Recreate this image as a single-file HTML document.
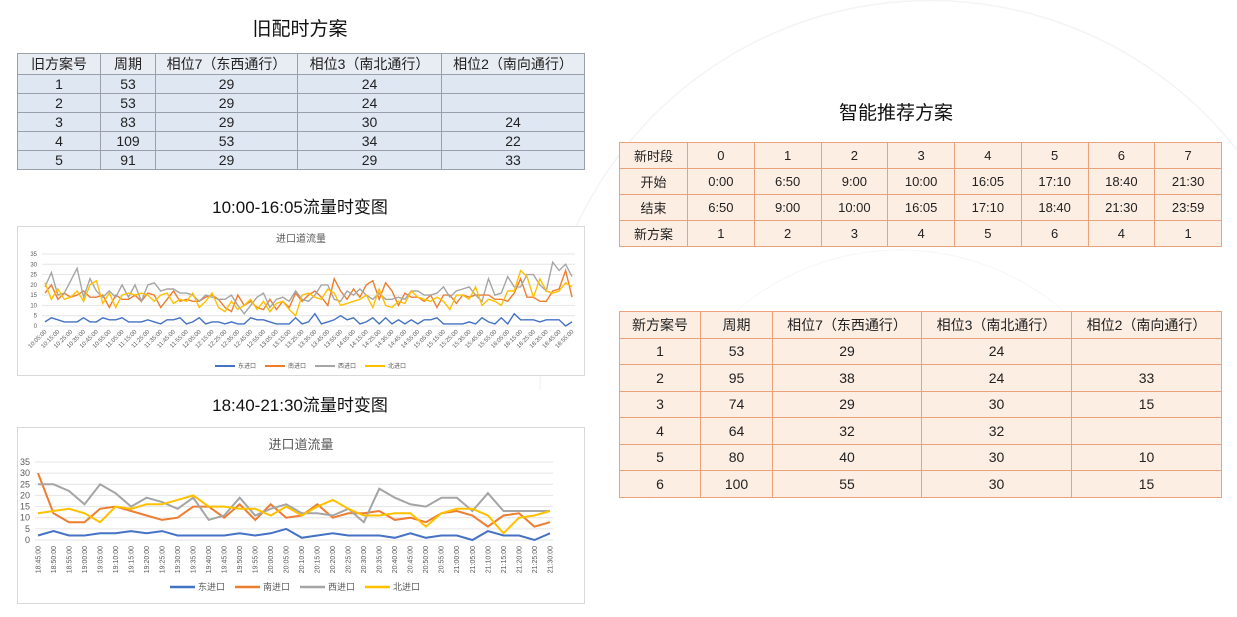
<!DOCTYPE html>
<html style="overflow:hidden"><head><meta charset="utf-8"><style>
html,body{margin:0;width:1237px;height:617px;overflow:hidden}
body{background:#fff;position:relative;font-family:"Liberation Sans","Noto Sans CJK SC",sans-serif;}
.t{position:absolute;font-size:19px;color:#111;text-align:center}
table{position:absolute;border-collapse:collapse;table-layout:fixed}
td{text-align:center;padding:0;font-size:14px;color:#222}
#old td{border:1.5px solid #9aa0ab;background:#dfe7f3;height:18px}
#old tr:first-child td{background:#e8ecf3}
#seg td,#newp td{border:1.5px solid #e9a27c;background:#fdeee4;color:#222}
#seg td{height:25px;font-size:13px}
#newp td{height:25.5px}
svg{position:absolute;overflow:hidden}
</style></head><body>
<svg width="1237" height="616" style="left:0;top:0"><path d="M540 390 A390 390 0 0 1 1237 150" fill="none" stroke="#f4f4f4" stroke-width="1.5"/><path d="M650 500 A250 250 0 0 1 1150 500" fill="none" stroke="#f6f6f6" stroke-width="1"/></svg>
<div class="t" style="left:200px;top:14px;width:200px">旧配时方案</div>
<table id="old" style="left:17px;top:53px;width:567px">
<colgroup><col style="width:83px"><col style="width:55px"><col style="width:142px"><col style="width:144px"><col style="width:143px"></colgroup>
<tr><td>旧方案号</td><td>周期</td><td>相位7（东西通行）</td><td>相位3（南北通行）</td><td>相位2（南向通行）</td></tr>
<tr><td>1</td><td>53</td><td>29</td><td>24</td><td></td></tr>
<tr><td>2</td><td>53</td><td>29</td><td>24</td><td></td></tr>
<tr><td>3</td><td>83</td><td>29</td><td>30</td><td>24</td></tr>
<tr><td>4</td><td>109</td><td>53</td><td>34</td><td>22</td></tr>
<tr><td>5</td><td>91</td><td>29</td><td>29</td><td>33</td></tr>
</table>
<div class="t" style="left:150px;top:193px;width:300px;font-size:17px">10:00-16:05流量时变图</div>
<div class="t" style="left:150px;top:391px;width:300px;font-size:17px">18:40-21:30流量时变图</div>
<div class="t" style="left:796px;top:98px;width:200px">智能推荐方案</div>
<table id="seg" style="left:619px;top:142px;width:603px">
<colgroup><col style="width:68px"><col><col><col><col><col><col><col><col></colgroup>
<tr><td>新时段</td><td>0</td><td>1</td><td>2</td><td>3</td><td>4</td><td>5</td><td>6</td><td>7</td></tr>
<tr><td>开始</td><td>0:00</td><td>6:50</td><td>9:00</td><td>10:00</td><td>16:05</td><td>17:10</td><td>18:40</td><td>21:30</td></tr>
<tr><td>结束</td><td>6:50</td><td>9:00</td><td>10:00</td><td>16:05</td><td>17:10</td><td>18:40</td><td>21:30</td><td>23:59</td></tr>
<tr><td>新方案</td><td>1</td><td>2</td><td>3</td><td>4</td><td>5</td><td>6</td><td>4</td><td>1</td></tr>
</table>
<table id="newp" style="left:619px;top:311px;width:602px">
<colgroup><col style="width:81px"><col style="width:72px"><col style="width:149px"><col style="width:150px"><col style="width:150px"></colgroup>
<tr><td>新方案号</td><td>周期</td><td>相位7（东西通行）</td><td>相位3（南北通行）</td><td>相位2（南向通行）</td></tr>
<tr><td>1</td><td>53</td><td>29</td><td>24</td><td></td></tr>
<tr><td>2</td><td>95</td><td>38</td><td>24</td><td>33</td></tr>
<tr><td>3</td><td>74</td><td>29</td><td>30</td><td>15</td></tr>
<tr><td>4</td><td>64</td><td>32</td><td>32</td><td></td></tr>
<tr><td>5</td><td>80</td><td>40</td><td>30</td><td>10</td></tr>
<tr><td>6</td><td>100</td><td>55</td><td>30</td><td>15</td></tr>
</table>
<svg id="c1" width="568" height="150" style="left:17px;top:226px"></svg>
<svg id="c2" width="568" height="177" style="left:17px;top:427px"></svg>
<script>
const seriesNames=["东进口","南进口","西进口","北进口"];
const colors=["#4472c4","#ed7d31","#a5a5a5","#ffc000"];
const yTicks=[0,5,10,15,20,25,30,35];
const c1Labels=["10:05:00","10:15:00","10:25:00","10:35:00","10:45:00","10:55:00","11:05:00","11:15:00","11:25:00","11:35:00","11:45:00","11:55:00","12:05:00","12:15:00","12:25:00","12:35:00","12:45:00","12:55:00","13:05:00","13:15:00","13:25:00","13:35:00","13:45:00","13:55:00","14:05:00","14:15:00","14:25:00","14:35:00","14:45:00","14:55:00","15:05:00","15:15:00","15:25:00","15:35:00","15:45:00","15:55:00","16:05:00","16:15:00","16:25:00","16:35:00","16:45:00","16:55:00"];
const c1East=[2,4,3,2,2,2,4,2,2,4,3,3,4,2,2,2,3,2,1,3,3,4,1,2,4,1,2,2,1,2,1,1,4,3,3,2,1,1,1,4,1,2,6,1,2,3,5,3,4,1,2,4,1,4,1,3,1,3,1,3,3,4,1,1,1,1,2,1,4,2,1,4,1,6,3,3,3,2,3,3,3,0,2];
const c1South=[16,20,13,16,14,15,17,14,14,15,9,15,13,13,15,12,16,15,9,13,17,12,13,12,12,14,15,13,9,7,15,10,12,9,8,13,8,12,9,16,12,15,17,14,10,23,17,13,18,14,20,22,13,21,17,10,16,14,14,12,15,9,15,15,11,15,14,15,15,15,13,13,12,16,23,14,14,12,12,17,18,27,14];
const c1West=[19,26,15,16,22,28,14,23,17,14,17,14,20,14,20,12,20,21,17,18,18,16,16,15,12,15,14,13,13,15,10,6,10,14,16,9,13,14,12,17,13,12,15,20,20,13,12,17,15,18,15,13,16,13,13,14,13,17,17,15,15,16,19,14,17,18,19,15,12,23,15,16,24,19,19,25,25,20,17,31,27,30,24];
const c1North=[21,13,18,13,14,17,12,20,22,11,16,9,15,16,15,16,15,12,15,16,11,13,12,16,9,12,16,9,7,12,8,10,13,8,12,7,11,12,8,5,15,16,14,13,18,16,10,11,12,13,15,9,18,10,9,12,11,17,14,13,12,14,12,8,15,15,13,19,10,13,12,10,17,17,27,24,14,23,17,16,17,21,19];
const c2Labels=["18:45:00","18:50:00","18:55:00","19:00:00","19:05:00","19:10:00","19:15:00","19:20:00","19:25:00","19:30:00","19:35:00","19:40:00","19:45:00","19:50:00","19:55:00","20:00:00","20:05:00","20:10:00","20:15:00","20:20:00","20:25:00","20:30:00","20:35:00","20:40:00","20:45:00","20:50:00","20:55:00","21:00:00","21:05:00","21:10:00","21:15:00","21:20:00","21:25:00","21:30:00"];
const c2East=[2,4,2,2,3,3,4,3,4,2,2,2,2,3,2,3,5,1,2,3,2,2,2,1,3,1,2,2,0,4,2,2,0,3];
const c2South=[30,12,8,8,14,15,13,11,9,10,15,15,10,16,9,16,10,11,16,10,12,12,13,9,10,8,12,13,11,6,11,12,6,8];
const c2West=[25,25,22,16,25,21,15,19,17,14,19,9,11,19,11,14,16,12,12,11,14,8,23,19,16,15,19,19,13,21,13,13,13,13];
const c2North=[12,13,14,12,8,15,14,16,16,18,20,15,15,14,14,11,15,11,15,18,14,11,11,12,12,6,12,14,14,11,3,10,11,13];
const NS="http://www.w3.org/2000/svg";
function mk(p,tag,a){const e=document.createElementNS(NS,tag);for(const k in a)e.setAttribute(k,a[k]);p.appendChild(e);return e;}
function draw(id,series,labels,everyIdx,g){
 const svg=document.getElementById(id);
 const bg=mk(svg,"rect",{x:0.5,y:0.5,width:g.w-1,height:g.h-1,fill:"#fff",stroke:"#d9d9d9"});
 
 
 const t=mk(svg,"text",{x:g.w/2,y:g.ty,"text-anchor":"middle","font-size":g.tf,fill:"#595959"});t.textContent="进口道流量";
 
 
 const n=series[0].length;
 const xs=i=>g.x0+(g.x1-g.x0)*i/(n-1);
 const ys=v=>g.y0-(g.y0-g.y35)*v/35;
 yTicks.forEach(v=>{mk(svg,"line",{x1:g.x0-3,x2:g.x1+3,y1:ys(v),y2:ys(v),stroke:"#e4e4e4"});
  const l=mk(svg,"text",{x:g.x0-8,y:ys(v)+g.yf/3,"text-anchor":"end","font-size":g.yf,fill:"#595959"});l.textContent=v;
  
  });
 labels.forEach((s,j)=>{const i=j*everyIdx;const x=xs(i),y=g.y0+6;
  const l=mk(svg,"text",{x:x+g.xf/3,y:y,"text-anchor":"end","font-size":g.xf,fill:"#595959",transform:`rotate(${g.rot} ${x+g.xf/3} ${y})`});l.textContent=s;
  
  });
 series.forEach((d,k)=>{const p=mk(svg,"polyline",{points:d.map((v,i)=>xs(i).toFixed(1)+","+ys(v).toFixed(1)).join(" "),fill:"none",stroke:colors[k],"stroke-width":g.sw});
  
  
  const lx=g.lx+k*g.ls;
  const ll=mk(svg,"line",{x1:lx,x2:lx+g.ll,y1:g.ly,y2:g.ly,stroke:colors[k],"stroke-width":g.sw+0.5});
  
  
  const lt=mk(svg,"text",{x:lx+g.ll+3,y:g.ly+g.lf/3,"font-size":g.lf,fill:"#595959"});lt.textContent=seriesNames[k];
  
  });
}
draw("c1",[c1East,c1South,c1West,c1North],c1Labels,2,{w:568,h:150,ty:16,tf:10,x0:28,x1:555,y0:100,y35:28,yf:6,xf:6,rot:-45,sw:1.4,lx:198,ls:50,ll:20,ly:140,lf:6});
draw("c2",[c2East,c2South,c2West,c2North],c2Labels,1,{w:568,h:177,ty:22,tf:13,x0:21,x1:533,y0:113,y35:35,yf:9,xf:7,rot:-90,sw:2,lx:153,ls:65,ll:25,ly:160,lf:9});
</script>
</body></html>
